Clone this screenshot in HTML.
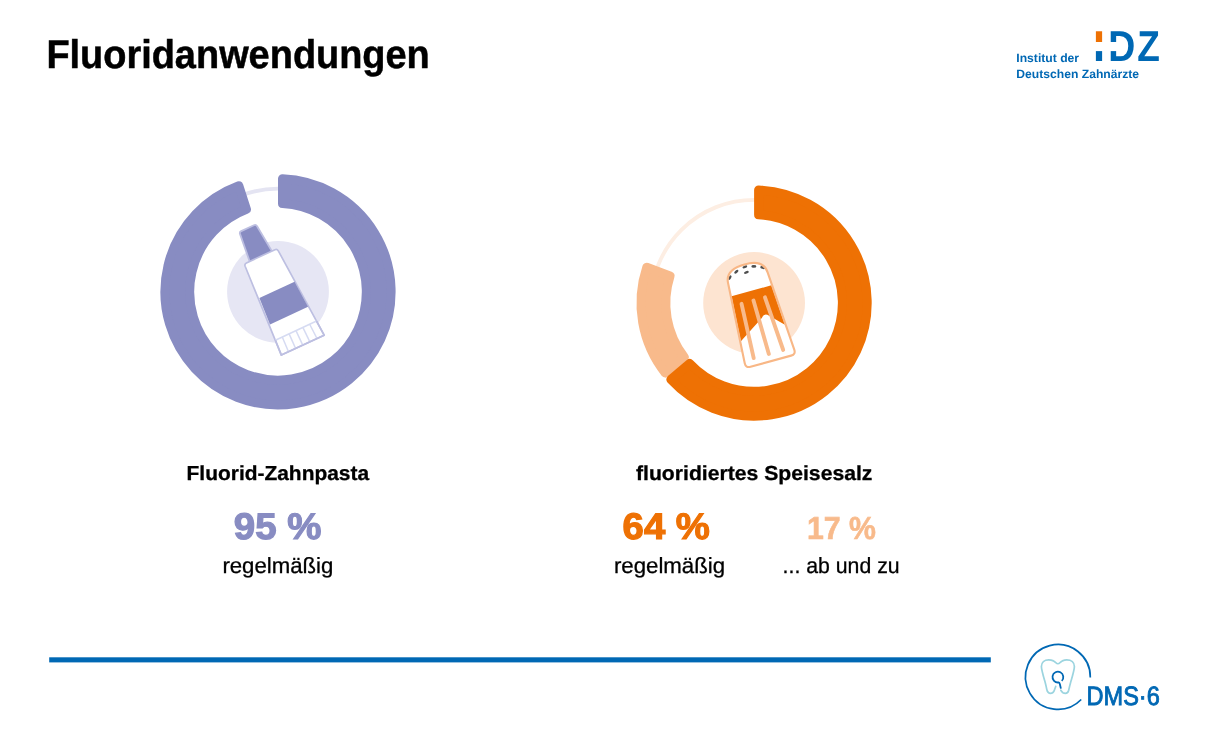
<!DOCTYPE html>
<html lang="de"><head><meta charset="utf-8"><title>Fluoridanwendungen</title>
<style>
html,body{margin:0;padding:0;background:#fff}
body{width:1208px;height:754px;overflow:hidden;font-family:"Liberation Sans",sans-serif}
svg{display:block}
text{font-family:"Liberation Sans",sans-serif;text-rendering:geometricPrecision}
.b{font-weight:700}
</style></head><body>
<svg width="1208" height="754" viewBox="0 0 1208 754">
<rect width="1208" height="754" fill="#fff"/>
<text class="b" x="46.4" y="67.6" font-size="40" textLength="383.4" lengthAdjust="spacingAndGlyphs" fill="#000" stroke="#000" stroke-width="0.5">Fluoridanwendungen</text>
<g id="donut1">
<circle cx="278.0" cy="291.8" r="103.1" fill="none" stroke="#e4e4f2" stroke-width="3.8"/>
<path d="M282.50 178.79 A113.10 113.10 0 1 1 238.80 185.71 L246.47 209.32 A88.30 88.30 0 1 0 282.50 203.61 Z" fill="#888cc2" stroke="#888cc2" stroke-width="9.0" stroke-linejoin="round"/>
<circle cx="278.0" cy="291.8" r="50.9" fill="#e6e6f4"/>
<g transform="translate(277.6 291.2) rotate(-25)" stroke-linejoin="round">
<path d="M-7.6 -69.8 L6.4 -69.8 Q8.6 -69.8 8.9 -67.6 L11.9 -37 L-12.9 -37 L-9.9 -67.6 Q-9.8 -69.8 -7.6 -69.8 Z" fill="#888cc2" stroke="#bdbfe1" stroke-width="1.8"/>
<path d="M-16.3 -38.8 L15.1 -38.8 Q17.5 -38.8 17.7 -36.3 L23.6 59.5 L-23.6 59.5 L-18.9 -36.3 Q-18.7 -38.8 -16.3 -38.8 Z" fill="#fff" stroke="#bdbfe1" stroke-width="1.7"/>
<path d="M-19.4 -1.5 L19.4 -1.5 L21 27 L-21 27 Z" fill="#888cc2"/>
<path d="M-22.7 43.5 L22.7 43.5" stroke="#d6dbf2" stroke-width="1.6" fill="none"/>
<path d="M-15.13 43.5 L-15.73 59.5" stroke="#d6dbf2" stroke-width="1.5" fill="none"/>
<path d="M-7.57 43.5 L-7.87 59.5" stroke="#d6dbf2" stroke-width="1.5" fill="none"/>
<path d="M0.00 43.5 L0.00 59.5" stroke="#d6dbf2" stroke-width="1.5" fill="none"/>
<path d="M7.57 43.5 L7.87 59.5" stroke="#d6dbf2" stroke-width="1.5" fill="none"/>
<path d="M15.13 43.5 L15.73 59.5" stroke="#d6dbf2" stroke-width="1.5" fill="none"/>
<path d="M-22.7 43.5 L-23.6 59.5 L23.6 59.5 L22.7 43.5" fill="none" stroke="#bdbfe1" stroke-width="1.7"/>
</g>
</g>
<g id="donut2">
<circle cx="754.1" cy="303.0" r="103.1" fill="none" stroke="#fdeee3" stroke-width="3.8"/>
<path d="M665.37 373.13 A113.10 113.10 0 0 1 646.79 267.26 L670.02 276.04 A88.30 88.30 0 0 0 684.21 356.97 Z" fill="#f8ba8b" stroke="#f8ba8b" stroke-width="9.0" stroke-linejoin="round"/>
<path d="M758.60 189.99 A113.10 113.10 0 1 1 670.82 379.53 L689.75 363.47 A88.30 88.30 0 1 0 758.60 214.81 Z" fill="#ee7104" stroke="#ee7104" stroke-width="9.0" stroke-linejoin="round"/>
<circle cx="754.1" cy="303.0" r="50.9" fill="#fde4d1"/>
<g transform="translate(754.5 301.9) rotate(-15.4)" stroke-linejoin="round" stroke-linecap="round">
<path d="M-20.50 -25.0 C-20.10 -34.5 -12.5 -38.8 0.3 -38.8 C13 -38.8 20.10 -34.5 20.50 -25.0 L25.68 56.5 Q26.00 61.5 21.00 61.5 L-21.00 61.5 Q-26.00 61.5 -25.68 56.5 Z" fill="#fff"/>
<path d="M-20.66 -11.5 L20.66 -11.5 L23.30 30 L10.4 17.2 Q6.6 12.6 2.8 17.4 L-23.57 34.3 Z" fill="#ee7104"/>
<path d="M-13 -1.6 L-15.7 54" stroke="#f8ba8b" stroke-width="3.9" fill="none"/>
<path d="M-0.6 -1.6 L0.0 54" stroke="#f8ba8b" stroke-width="3.9" fill="none"/>
<path d="M11.3 -1.6 L14.9 54" stroke="#f8ba8b" stroke-width="3.9" fill="none"/>
<ellipse cx="-9.5" cy="-34" rx="2.5" ry="1.3" transform="rotate(-25 -9.5 -34)" fill="#4f4f4f"/>
<ellipse cx="0" cy="-36.3" rx="2.5" ry="1.3" transform="rotate(-5 0 -36.3)" fill="#4f4f4f"/>
<ellipse cx="8.8" cy="-34.4" rx="2.5" ry="1.3" transform="rotate(15 8.8 -34.4)" fill="#4f4f4f"/>
<ellipse cx="17" cy="-30.9" rx="2.5" ry="1.3" transform="rotate(35 17 -30.9)" fill="#4f4f4f"/>
<ellipse cx="-17.3" cy="-30" rx="2.5" ry="1.3" transform="rotate(-45 -17.3 -30)" fill="#4f4f4f"/>
<ellipse cx="0" cy="-30.6" rx="2.5" ry="1.3" transform="rotate(-5 0 -30.6)" fill="#4f4f4f"/>
<path d="M-20.50 -25.0 C-20.10 -34.5 -12.5 -38.8 0.3 -38.8 C13 -38.8 20.10 -34.5 20.50 -25.0 L25.68 56.5 Q26.00 61.5 21.00 61.5 L-21.00 61.5 Q-26.00 61.5 -25.68 56.5 Z" fill="none" stroke="#f8b786" stroke-width="2.1"/>
</g>
</g>
<text class="b" x="186.6" y="480" font-size="20.3" textLength="182.5" lengthAdjust="spacingAndGlyphs" fill="#000" stroke="#000" stroke-width="0.3">Fluorid-Zahnpasta</text>
<text class="b" x="233.8" y="539.2" font-size="37" textLength="87.6" lengthAdjust="spacingAndGlyphs" fill="#888cc2" stroke="#888cc2" stroke-width="1.2">95 %</text>
<text x="222.4" y="572.8" font-size="22" textLength="111" lengthAdjust="spacingAndGlyphs" fill="#000" stroke="#000" stroke-width="0.3">regelmäßig</text>
<text class="b" x="636.0" y="480" font-size="20.3" textLength="236.4" lengthAdjust="spacingAndGlyphs" fill="#000" stroke="#000" stroke-width="0.3">fluoridiertes Speisesalz</text>
<text class="b" x="622.6" y="539.0" font-size="37" textLength="87.3" lengthAdjust="spacingAndGlyphs" fill="#ee7104" stroke="#ee7104" stroke-width="1.2">64 %</text>
<text x="613.9" y="572.8" font-size="22" textLength="111.2" lengthAdjust="spacingAndGlyphs" fill="#000" stroke="#000" stroke-width="0.3">regelmäßig</text>
<text class="b" x="807.0" y="539.3" font-size="31.8" textLength="69" lengthAdjust="spacingAndGlyphs" fill="#f8ba8b" stroke="#f8ba8b" stroke-width="0.6">17 %</text>
<text x="782.6" y="572.8" font-size="22" textLength="117" lengthAdjust="spacingAndGlyphs" fill="#000" stroke="#000" stroke-width="0.3">... ab und zu</text>
<rect x="49.2" y="657.3" width="941.6" height="5.1" fill="#0068b4"/>
<g id="dms" fill="none" stroke-linecap="butt" stroke-linejoin="round">
<path d="M1081.21 699.51 A32.4 32.4 0 1 1 1090.30 677.57" stroke="#0068b4" stroke-width="1.7"/>
<path d="M1055.7 686.4 C1055 688.5 1054.6 689.8 1054.1 690.8 C1053.3 692.6 1052.2 693.3 1050.6 693.3 C1048.6 693.3 1047.3 692 1046.8 689.5 C1046.3 687 1045.9 685 1045.2 682.5 C1044.3 679.3 1043.3 676.3 1042.6 673 C1042 670.5 1041.4 668.5 1041.4 666.6 C1041.4 662.5 1044.5 659.95 1048.7 659.95 C1050.5 659.95 1052 660.3 1053.45 660.9 C1055.2 661.7 1056.4 663.75 1057.9 663.75 C1059.4 663.75 1060.6 661.7 1062.35 660.9 C1063.8 660.3 1065 659.95 1066.8 659.95 C1071.3 659.95 1074.4 662.5 1074.4 666.6 C1074.4 668.5 1073.8 670.5 1073.2 673 C1072.5 676.3 1071.5 679.3 1070.6 682.5 C1069.9 685 1069.3 687.5 1068.7 690.2 C1068.2 692.2 1067.2 693.3 1065.5 693.3 C1064.5 693.3 1063.7 693.2 1063 692.7 C1062.2 692.1 1061.4 691.2 1060.8 690.2" stroke="#9bd4df" stroke-width="1.7" stroke-linecap="round"/>
<path d="M1061.72 680.92 A5.4 5.4 0 1 0 1058.65 682.45 C1059.4 682.55 1059.7 683.3 1059.9 684.2 L1060.9 688.6" stroke="#0068b4" stroke-width="1.8" stroke-linecap="butt"/>
</g>
<text x="1086.6" y="704.7" font-size="26.6" textLength="73.2" lengthAdjust="spacingAndGlyphs" fill="#0068b4" stroke="#0068b4" stroke-width="0.9" stroke-linejoin="miter">DMS·6</text>
<g id="idz">
<text class="b" x="1016.3" y="61.7" font-size="12" textLength="62.8" lengthAdjust="spacingAndGlyphs" fill="#0068b4">Institut der</text>
<text class="b" x="1016.3" y="77.8" font-size="12" textLength="122.8" lengthAdjust="spacingAndGlyphs" fill="#0068b4">Deutschen Zahnärzte</text>
<defs><pattern id="pIDZ" patternUnits="userSpaceOnUse" x="1080" y="20" width="100" height="60"><rect x="0" y="0" width="100" height="60" fill="#0068b4"/><rect x="0" y="0" width="25" height="22" fill="#ee7104"/><rect x="0" y="22" width="40" height="9.1" fill="#fff"/></pattern></defs>
<text class="b" y="60.8" font-size="43.2" fill="url(#pIDZ)"><tspan x="1092.9">I</tspan><tspan x="1108.2" textLength="27" lengthAdjust="spacingAndGlyphs">D</tspan><tspan x="1137.3" textLength="22.6" lengthAdjust="spacingAndGlyphs">Z</tspan></text>
</g>
</svg>
</body></html>
